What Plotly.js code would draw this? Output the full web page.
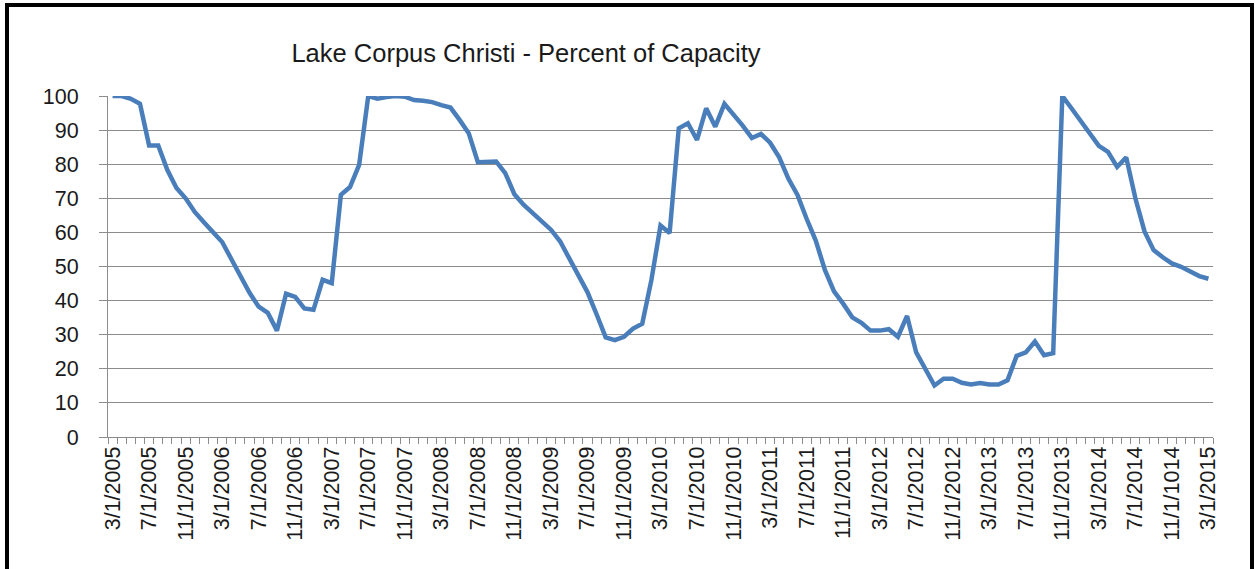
<!DOCTYPE html>
<html>
<head>
<meta charset="utf-8">
<script src="https://cdn.plot.ly/plotly-3.0.1.min.js"></script>
<style>
  html, body { margin: 0; padding: 0; background: #ffffff; overflow: hidden; }
  #chart { position: absolute; left: 0; top: 0; width: 1255px; height: 569px; }
  #frame { position: absolute; left: 5px; top: 3px; width: 1241px; height: 620px;
           border: 4px solid #000; border-bottom: none; pointer-events: none; }
</style>
</head>
<body>
<div id="chart"></div>
<div id="frame"></div>
<script>
// Monthly categories, 3/1/2005 .. 3/1/2015
const months = [
  "3/1/2005","4/1/2005","5/1/2005","6/1/2005","7/1/2005","8/1/2005","9/1/2005","10/1/2005","11/1/2005","12/1/2005",
  "1/1/2006","2/1/2006","3/1/2006","4/1/2006","5/1/2006","6/1/2006","7/1/2006","8/1/2006","9/1/2006","10/1/2006","11/1/2006","12/1/2006",
  "1/1/2007","2/1/2007","3/1/2007","4/1/2007","5/1/2007","6/1/2007","7/1/2007","8/1/2007","9/1/2007","10/1/2007","11/1/2007","12/1/2007",
  "1/1/2008","2/1/2008","3/1/2008","4/1/2008","5/1/2008","6/1/2008","7/1/2008","8/1/2008","9/1/2008","10/1/2008","11/1/2008","12/1/2008",
  "1/1/2009","2/1/2009","3/1/2009","4/1/2009","5/1/2009","6/1/2009","7/1/2009","8/1/2009","9/1/2009","10/1/2009","11/1/2009","12/1/2009",
  "1/1/2010","2/1/2010","3/1/2010","4/1/2010","5/1/2010","6/1/2010","7/1/2010","8/1/2010","9/1/2010","10/1/2010","11/1/2010","12/1/2010",
  "1/1/2011","2/1/2011","3/1/2011","4/1/2011","5/1/2011","6/1/2011","7/1/2011","8/1/2011","9/1/2011","10/1/2011","11/1/2011","12/1/2011",
  "1/1/2012","2/1/2012","3/1/2012","4/1/2012","5/1/2012","6/1/2012","7/1/2012","8/1/2012","9/1/2012","10/1/2012","11/1/2012","12/1/2012",
  "1/1/2013","2/1/2013","3/1/2013","4/1/2013","5/1/2013","6/1/2013","7/1/2013","8/1/2013","9/1/2013","10/1/2013","11/1/2013","12/1/2013",
  "1/1/2014","2/1/2014","3/1/2014","4/1/2014","5/1/2014","6/1/2014","7/1/2014","8/1/2014","9/1/2014","10/1/2014","11/1/2014","12/1/2014",
  "1/1/2015","2/1/2015","3/1/2015"
];

// Percent of capacity
const percentCapacity = [
  100, 100, 99.2, 97.7, 85.5, 85.5, 78.3, 73.0, 70.0, 66.0,
  63.0, 60.3, 57.2, 52.2, 47.0, 42.3, 38.2, 36.4, 31.2, 42.0, 41.1, 37.7,
  37.3, 46.1, 45.1, 71.0, 73.3, 79.8, 100, 99.2, 99.7, 100, 99.8, 98.8,
  98.6, 98.2, 97.3, 96.6, 93.0, 89.1, 80.6, 80.6, 80.8, 77.4, 71.2, 68.1,
  65.7, 63.2, 60.8, 57.4, 52.4, 47.4, 42.5, 36.0, 29.2, 28.4, 29.4, 31.8,
  33.2, 46.0, 62.0, 59.8, 90.5, 92.0, 87.1, 96.4, 91.0, 97.7, 94.6, 91.3,
  87.7, 88.9, 86.3, 82.0, 75.8, 71.0, 64.0, 57.6, 49.0, 42.7, 39.1, 35.1,
  33.5, 31.2, 31.2, 31.6, 29.4, 35.5, 24.8, 19.9, 15.1, 17.1, 17.1, 15.9,
  15.4, 15.8, 15.4, 15.4, 16.6, 23.8, 24.8, 28.0, 24.0, 24.6, 100, 96.4,
  92.8, 89.1, 85.4, 83.6, 79.2, 82.0, 70.0, 60.3, 54.8, 52.7, 50.9, 49.9,
  48.6, 47.2, 46.4
];

// Axis labels shown every fourth month (as printed, including "11/1/1014")
const tickLabels = [
  "3/1/2005","7/1/2005","11/1/2005","3/1/2006","7/1/2006","11/1/2006",
  "3/1/2007","7/1/2007","11/1/2007","3/1/2008","7/1/2008","11/1/2008",
  "3/1/2009","7/1/2009","11/1/2009","3/1/2010","7/1/2010","11/1/2010",
  "3/1/2011","7/1/2011","11/1/2011","3/1/2012","7/1/2012","11/1/2012",
  "3/1/2013","7/1/2013","11/1/2013","3/1/2014","7/1/2014","11/1/1014",
  "3/1/2015"
];
const labelEvery = 4;
const yTicks = [0, 10, 20, 30, 40, 50, 60, 70, 80, 90, 100];

const tickText = months.map((m, i) => (i % labelEvery === 0) ? tickLabels[i / labelEvery] : "");

const FONT = "Liberation Sans, Arial, sans-serif";
const GRID = "#8c8c8c";

const trace = {
  type: "scatter",
  mode: "lines",
  x: months,
  y: percentCapacity,
  line: { color: "#4a7ebb", width: 4.5, shape: "linear" },
  hoverinfo: "x+y"
};

const layout = {
  width: 1255,
  height: 569,
  margin: { l: 108, r: 42, t: 96, b: 132, pad: 0 },
  paper_bgcolor: "#ffffff",
  plot_bgcolor: "#ffffff",
  showlegend: false,
  font: { family: FONT, color: "#000000" },
  title: {
    text: "Lake Corpus Christi - Percent of Capacity",
    font: { family: FONT, size: 25.5, color: "#1a1a1a" },
    xref: "container", yref: "container",
    x: 526 / 1255, xanchor: "center",
    y: 1 - 53 / 569, yanchor: "middle"
  },
  xaxis: {
    type: "category",
    categoryorder: "array",
    categoryarray: months,
    range: [-0.5, months.length - 0.5],
    tickmode: "array",
    tickvals: months,
    ticktext: tickText,
    tickson: "boundaries",
    ticks: "outside",
    ticklen: 6,
    tickwidth: 1,
    tickcolor: GRID,
    tickangle: -90,
    tickfont: { family: FONT, size: 21.5, color: "#1a1a1a" },
    showgrid: false,
    showline: true,
    linecolor: GRID,
    linewidth: 1,
    zeroline: false,
    automargin: false,
    fixedrange: true
  },
  yaxis: {
    range: [0, 100],
    tickmode: "array",
    tickvals: yTicks,
    ticktext: yTicks.map(String),
    ticks: "outside",
    ticklen: 8,
    tickwidth: 1,
    tickcolor: GRID,
    tickfont: { family: FONT, size: 21.5, color: "#1a1a1a" },
    ticklabelstandoff: 16,
    showgrid: true,
    gridcolor: GRID,
    gridwidth: 1,
    showline: true,
    linecolor: GRID,
    linewidth: 1,
    zeroline: false,
    automargin: false,
    fixedrange: true
  }
};

Plotly.newPlot("chart", [trace], layout, { displayModeBar: false, staticPlot: true });
</script>
</body>
</html>
